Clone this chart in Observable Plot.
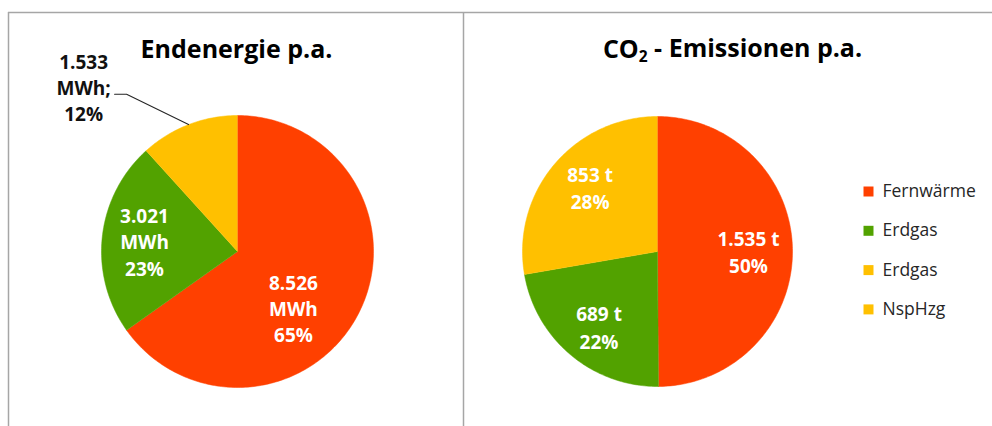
<!DOCTYPE html>
<html><head><meta charset="utf-8">
<script src="https://cdn.jsdelivr.net/npm/d3@7"></script>
<script src="https://cdn.jsdelivr.net/npm/@observablehq/plot@0.6"></script>
<style>body{margin:0;background:#fff;}</style>
</head><body><div id="chart"></div>
<script>
// ---- data ----
const categories = ["Fernwärme", "Erdgas", "NspHzg"];
const energyValues = [8526, 3021, 1533];   // MWh
const co2Values = [1535, 689, 853];        // t
const energyUnit = "MWh";
const co2Unit = "t";
const titles = ["Endenergie p.a.", "CO₂ - Emissionen p.a."];
const legendLabels = ["Fernwärme", "Erdgas", "Erdgas", "NspHzg"];

// ---- styles / layout ----
const sliceColors = ["#FF4000", "#52A200", "#FFC000"];
const legendColors = ["#FF4000", "#52A200", "#FFC000", "#FFC000"];
const W = 992, H = 426;
const pies = [
  {key: "e", cx: 237, cy: 251, r: 136, titleX: 236, values: energyValues, unit: energyUnit,
   // polar label placement: fraction of radius, angle clockwise from top (deg)
   place: [{f: 0.59, a: 135.8}, {f: 0.687, a: 275.7}, {f: 1.65, a: 316.7, outside: true}], lh: 1.39},
  {key: "c", cx: 657, cy: 251, r: 135, titleX: 732, values: co2Values, unit: co2Unit,
   place: [{f: 0.674, a: 90.3}, {f: 0.71, a: 217.6}, {f: 0.684, a: 313.1}], lh: 1.45}
];
const titleBaseline = 57;
const legend = {x: 868, y0: 191, step: 39.3, textDx: 14};

const fmt = d3.formatLocale({decimal: ",", thousands: ".", grouping: [3], currency: ["", "€"]}).format(",d");
const rad = d => d * Math.PI / 180;

const slicePts = [], insideLabels = [], outsideLabels = [], leaderPts = [];
for (const p of pies) {
  const total = d3.sum(p.values);
  let a = 0;
  p.values.forEach((v, i) => {
    const a0 = a, a1 = a + v / total * 360; a = a1;
    const id = p.key + i, color = sliceColors[i];
    slicePts.push({id, color, x: p.cx, y: p.cy});
    const n = Math.max(2, Math.ceil(a1 - a0));
    for (let k = 0; k <= n; k++) {
      const t = rad(a0 + (a1 - a0) * k / n);
      slicePts.push({id, color, x: p.cx + p.r * Math.sin(t), y: p.cy - p.r * Math.cos(t)});
    }
    const pct = Math.round(v / total * 100);
    const pl = p.place[i];
    const lx = p.cx + pl.f * p.r * Math.sin(rad(pl.a));
    const ly = p.cy - pl.f * p.r * Math.cos(rad(pl.a));
    if (p.key === "e") {
      if (pl.outside) {
        outsideLabels.push({x: lx, y: ly, text: `${fmt(v)}\n${p.unit};\n${pct}%`});
        const mid = rad((a0 + a1) / 2);
        leaderPts.push({x: lx + 31, y: ly + 6}, {x: lx + 43, y: ly + 6},
                       {x: p.cx + p.r * Math.sin(mid), y: p.cy - p.r * Math.cos(mid)});
      } else {
        insideLabels.push({x: lx, y: ly, lh: p.lh, text: `${fmt(v)}\n${p.unit}\n${pct}%`});
      }
    } else {
      insideLabels.push({x: lx, y: ly, lh: p.lh, text: `${fmt(v)} ${p.unit}\n${pct}%`});
    }
  });
}
const titleData = titles.map((t, i) => ({x: pies[i].titleX, y: titleBaseline, text: t}));
const legendData = legendLabels.map((t, i) => ({x: legend.x, y: legend.y0 + i * legend.step, text: t, color: legendColors[i]}));

const plot = Plot.plot({
  width: W, height: H, margin: 0,
  x: {domain: [0, W], range: [0, W], axis: null},
  y: {domain: [0, H], range: [0, H], axis: null},
  color: {type: "identity"},
  style: {fontFamily: "'Open Sans', sans-serif", background: "#fff", overflow: "visible"},
  marks: [
    Plot.ruleY([12], {x1: 8, x2: W, stroke: "#A6A6A6", strokeWidth: 1.5}),
    Plot.ruleX([8, 463], {y1: 12, y2: H, stroke: "#A6A6A6", strokeWidth: 1.5}),
    Plot.line(slicePts, {x: "x", y: "y", z: "id", fill: "color", stroke: "color", strokeWidth: 0.5}),
    Plot.line(leaderPts, {x: "x", y: "y", stroke: "#262626", strokeWidth: 1.1}),
    Plot.text(insideLabels.filter(d => d.lh === pies[0].lh), {x: "x", y: "y", text: "text", fill: "#fff", fontSize: 19, fontWeight: "bold", lineHeight: pies[0].lh, dy: -1.5}),
    Plot.text(insideLabels.filter(d => d.lh === pies[1].lh), {x: "x", y: "y", text: "text", fill: "#fff", fontSize: 19, fontWeight: "bold", lineHeight: pies[1].lh, dy: -1.5}),
    Plot.text(outsideLabels, {x: "x", y: "y", text: "text", fill: "#111", fontSize: 19, fontWeight: "bold", lineHeight: 1.35, dy: -1.5}),
    Plot.text(titleData, {x: "x", y: "y", text: "text", fill: "#000", fontSize: 25, fontWeight: "bold", lineAnchor: "bottom"}),
    Plot.dot(legendData, {x: "x", y: "y", symbol: "square", r: 5.64, fill: "color", stroke: null}),
    Plot.text(legendData, {x: d => d.x + legend.textDx, y: "y", text: "text", textAnchor: "start", fill: "#262626", fontSize: 17.5, letterSpacing: 0.6})
  ]
});

// subscript for CO₂ in the title
d3.select(plot).selectAll("text").each(function () {
  const s = this.textContent;
  if (this.childElementCount === 0 && s.includes("₂")) {
    const [a, b] = s.split("₂");
    const el = d3.select(this);
    el.text(a);
    el.append("tspan").attr("font-size", "0.62em").attr("dy", "0.32em").text("2");
    el.append("tspan").attr("dy", "-0.2em").text(b);
  }
});
document.getElementById("chart").appendChild(plot);
</script>
</body></html>
